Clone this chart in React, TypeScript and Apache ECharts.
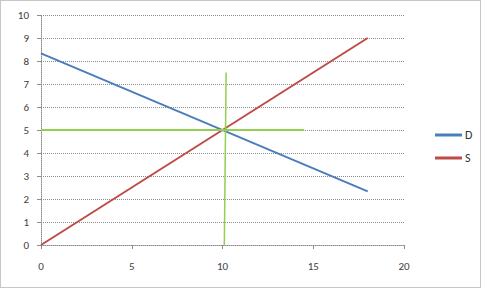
import React, { useEffect, useRef } from "react";
import * as echarts from "echarts";

const demandX = [0, 18];
const demandY = [8.33, 2.33];
const supplyX = [0, 18];
const supplyY = [0, 9];
const greenVX = [10.1, 10.2];
const greenVY = [0, 7.5];
const greenHX = [0, 14.5];
const greenHY = [5, 5];
const xTicks = [0, 5, 10, 15, 20];
const yTicks = [0, 1, 2, 3, 4, 5, 6, 7, 8, 9, 10];

const pairs = (xs: number[], ys: number[]) => xs.map((x, i) => [x, ys[i]]);

export default function App() {
  const ref = useRef<HTMLDivElement>(null);
  useEffect(() => {
    document.body.style.margin = "0";
    const chart = echarts.init(ref.current!, undefined, { renderer: "svg" });
    const font = "Calibri, Carlito, 'Liberation Sans', Arial, sans-serif";
    const dotted = { color: "#8c8c8c", type: [1, 1] as any, width: 1 };
    chart.setOption({
      animation: false,
      textStyle: { fontFamily: font },
      grid: { left: 41, right: 78, top: 15, bottom: 44 },
      graphic: [
        {
          type: "rect",
          shape: { x: 0.5, y: 0.5, width: 480, height: 287 },
          style: { fill: "none", stroke: "#8c8c8c", lineWidth: 1, lineDash: [1, 1] },
          silent: true,
        },
      ],
      legend: {
        data: ["D", "S"],
        orient: "vertical",
        left: 430,
        top: 124,
        itemWidth: 27,
        itemHeight: 3,
        itemGap: 11,
        icon: "rect",
        textStyle: { fontSize: 12, color: "#333", fontFamily: font, padding: [0, 0, 0, -2] },
      },
      xAxis: {
        type: "value",
        min: xTicks[0],
        max: xTicks[xTicks.length - 1],
        interval: 5,
        axisLine: { show: true, onZero: false, lineStyle: dotted },
        axisTick: { show: true, length: 4, lineStyle: { color: "#8c8c8c" } },
        splitLine: { show: false },
        axisLabel: { fontSize: 11, color: "#404040", margin: 16, fontFamily: font },
      },
      yAxis: {
        type: "value",
        min: yTicks[0],
        max: yTicks[yTicks.length - 1],
        interval: 1,
        axisLine: { show: true, lineStyle: dotted },
        axisTick: { show: true, length: 4, lineStyle: { color: "#8c8c8c" } },
        splitLine: { show: true, lineStyle: dotted },
        axisLabel: { fontSize: 11, color: "#404040", margin: 12, fontFamily: font },
      },
      series: [
        {
          name: "D",
          type: "line",
          data: pairs(demandX, demandY),
          showSymbol: false,
          symbol: "none",
          lineStyle: { color: "#4A7EBB", width: 2 },
          itemStyle: { color: "#4A7EBB" },
        },
        {
          name: "S",
          type: "line",
          data: pairs(supplyX, supplyY),
          showSymbol: false,
          symbol: "none",
          lineStyle: { color: "#BE4B48", width: 2 },
          itemStyle: { color: "#BE4B48" },
        },
        {
          name: "GV",
          type: "line",
          data: pairs(greenVX, greenVY),
          symbol: "none",
          lineStyle: { color: "#92D050", width: 1.5 },
          itemStyle: { color: "#92D050" },
        },
        {
          name: "GH",
          type: "line",
          data: pairs(greenHX, greenHY),
          symbol: "none",
          lineStyle: { color: "#92D050", width: 2 },
          itemStyle: { color: "#92D050" },
        },
      ],
    });
    return () => chart.dispose();
  }, []);
  return <div ref={ref} style={{ width: 482, height: 289 }} />;
}
